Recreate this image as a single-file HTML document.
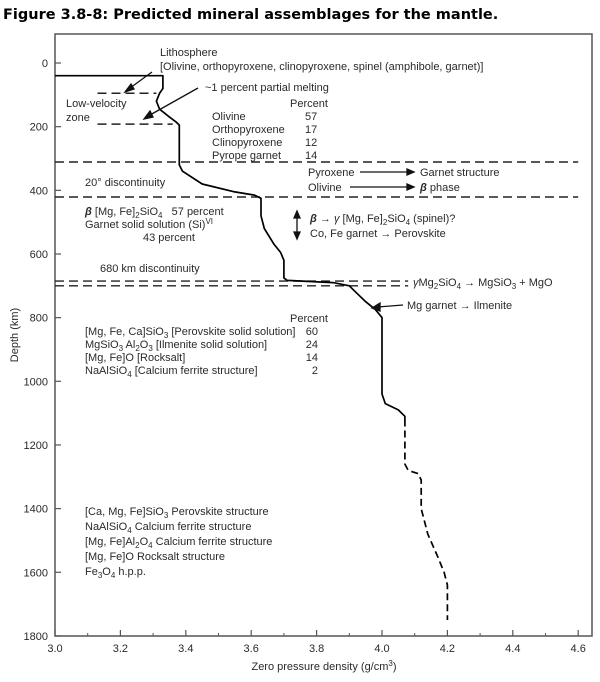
<!DOCTYPE html>
<html><head><meta charset="utf-8"><style>
body{margin:0;background:#fff;}
svg{display:block;font-family:"Liberation Sans",sans-serif;}
.t{font-size:11px;fill:#2a2a2a;}
</style></head><body>
<svg id="chart" width="600" height="682" viewBox="0 0 600 682">
<text x="3" y="19" font-size="14.5" font-weight="bold" fill="#000" style="font-family:'DejaVu Sans','Liberation Sans',sans-serif">Figure 3.8-8: Predicted mineral assemblages for the mantle.</text>
<rect x="55" y="34" width="537" height="602" fill="none" stroke="#555" stroke-width="1.5"/>
<g id="axes"></g>
<g id="marks"></g>
<g class="t">
<text x="160" y="56">Lithosphere</text>
<text x="160" y="70">[Olivine, orthopyroxene, clinopyroxene, spinel (amphibole, garnet)]</text>
<text x="205" y="91">~1 percent partial melting</text>
<text x="66" y="107">Low-velocity</text><text x="66" y="121">zone</text>
<text x="290" y="107">Percent</text>
<text x="212" y="120">Olivine</text><text x="305" y="120">57</text>
<text x="212" y="133">Orthopyroxene</text><text x="305" y="133">17</text>
<text x="212" y="146">Clinopyroxene</text><text x="305" y="146">12</text>
<text x="212" y="159">Pyrope garnet</text><text x="305" y="159">14</text>
<text x="85" y="186">20° discontinuity</text>
<text x="308" y="176">Pyroxene</text><text x="308" y="191">Olivine</text>
<text x="420" y="176">Garnet structure</text><text x="420" y="191"><tspan font-style="italic" font-weight="bold">β</tspan> phase</text>
<text x="85" y="215"><tspan font-style="italic" font-weight="bold">β</tspan> [Mg, Fe]<tspan font-size="8" dy="3">2</tspan><tspan dy="-3">SiO</tspan><tspan font-size="8" dy="3">4</tspan><tspan dy="-3" xml:space="preserve">   57 percent</tspan></text>
<text x="85" y="228">Garnet solid solution (Si)<tspan font-size="8" dy="-4">VI</tspan></text>
<text x="143" y="241">43 percent</text>
<text x="310" y="222"><tspan font-style="italic" font-weight="bold">β</tspan> → <tspan font-style="italic">γ</tspan> [Mg, Fe]<tspan font-size="8" dy="3">2</tspan><tspan dy="-3">SiO</tspan><tspan font-size="8" dy="3">4</tspan><tspan dy="-3"> (spinel)?</tspan></text>
<text x="310" y="237">Co, Fe garnet → Perovskite</text>
<text x="100" y="272">680 km discontinuity</text>
<text x="413" y="286"><tspan font-style="italic">γ</tspan>Mg<tspan font-size="8" dy="3">2</tspan><tspan dy="-3">SiO</tspan><tspan font-size="8" dy="3">4</tspan><tspan dy="-3"> → MgSiO</tspan><tspan font-size="8" dy="3">3</tspan><tspan dy="-3"> + MgO</tspan></text>
<text x="407" y="309">Mg garnet → Ilmenite</text>
<text x="290" y="322">Percent</text>
<text x="85" y="335">[Mg, Fe, Ca]SiO<tspan font-size="8" dy="3">3</tspan><tspan dy="-3"> [Perovskite solid solution]</tspan></text><text x="318" y="335" text-anchor="end">60</text>
<text x="85" y="348">MgSiO<tspan font-size="8" dy="3">3</tspan><tspan dy="-3"> Al</tspan><tspan font-size="8" dy="3">2</tspan><tspan dy="-3">O</tspan><tspan font-size="8" dy="3">3</tspan><tspan dy="-3"> [Ilmenite solid solution]</tspan></text><text x="318" y="348" text-anchor="end">24</text>
<text x="85" y="361">[Mg, Fe]O [Rocksalt]</text><text x="318" y="361" text-anchor="end">14</text>
<text x="85" y="374">NaAlSiO<tspan font-size="8" dy="3">4</tspan><tspan dy="-3"> [Calcium ferrite structure]</tspan></text><text x="318" y="374" text-anchor="end">2</text>
<text x="85" y="515">[Ca, Mg, Fe]SiO<tspan font-size="8" dy="3">3</tspan><tspan dy="-3"> Perovskite structure</tspan></text>
<text x="85" y="530">NaAlSiO<tspan font-size="8" dy="3">4</tspan><tspan dy="-3"> Calcium ferrite structure</tspan></text>
<text x="85" y="545">[Mg, Fe]Al<tspan font-size="8" dy="3">2</tspan><tspan dy="-3">O</tspan><tspan font-size="8" dy="3">4</tspan><tspan dy="-3"> Calcium ferrite structure</tspan></text>
<text x="85" y="560">[Mg, Fe]O Rocksalt structure</text>
<text x="85" y="575">Fe<tspan font-size="8" dy="3">3</tspan><tspan dy="-3">O</tspan><tspan font-size="8" dy="3">4</tspan><tspan dy="-3"> h.p.p.</tspan></text>
<text x="324" y="670" text-anchor="middle">Zero pressure density (g/cm<tspan font-size="8" dy="-4">3</tspan><tspan dy="4">)</tspan></text>
<text transform="translate(18,335) rotate(-90)" text-anchor="middle">Depth (km)</text>
</g>
<g stroke="#111" stroke-width="1.3" fill="#111">
<line x1="152" y1="72" x2="130" y2="88"/><polygon points="125,92 131,84 134,89" />
<line x1="198" y1="88" x2="150" y2="115"/><polygon points="144,119 150,111 153,117"/>
<line x1="403" y1="305" x2="378" y2="307"/><polygon points="372,308 380,303 380,311"/>
<line x1="360" y1="172" x2="410" y2="172"/><polygon points="414,172 407,169 407,175"/>
<line x1="350" y1="187" x2="410" y2="187"/><polygon points="414,187 407,184 407,190"/>
<line x1="297" y1="215" x2="297" y2="235"/><polygon points="297,211 294,218 300,218"/><polygon points="297,239 294,232 300,232"/>
</g>
</svg>
<script>
const xTicks=[3.0,3.2,3.4,3.6,3.8,4.0,4.2,4.4,4.6];
const yTicks=[0,200,400,600,800,1000,1200,1400,1600,1800];
const solidDensity=[3.0,3.33,3.33,3.32,3.31,3.32,3.35,3.37,3.38,3.38,3.39,3.45,3.55,3.61,3.63,3.63,3.64,3.67,3.69,3.70,3.70,3.71,3.85,3.90,3.92,3.95,3.98,4.0,4.0,4.01,4.05,4.07,4.07];
const solidDepth=[40,40,80,95,120,145,170,185,195,320,340,380,405,415,425,480,520,570,595,620,675,683,690,700,720,750,775,800,1040,1070,1090,1110,1120];
const dashDensity=[4.07,4.07,4.08,4.11,4.12,4.12,4.14,4.17,4.19,4.2,4.2];
const dashDepth=[1120,1260,1280,1290,1310,1400,1480,1550,1600,1640,1750];
const hLineDepths=[95,192,311,421,685,700];
const hLineStart=[3.13,3.13,3.0,3.0,3.0,3.0];
const hLineEnd=[3.31,3.36,4.6,4.6,4.08,4.08];
const X=v=>55+(v-3.0)*327;
const Y=d=>63+d*0.3183;
const ns="http://www.w3.org/2000/svg";
const ax=document.getElementById('axes'),mk=document.getElementById('marks');
function el(t,a,p){const e=document.createElementNS(ns,t);for(const k in a)e.setAttribute(k,a[k]);p.appendChild(e);return e;}
xTicks.forEach((v,i)=>{
 const l=el('line',{x1:X(v),x2:X(v),y1:636,y2:630,stroke:'#555','stroke-width':1.2},ax);
 
 
 if(i<xTicks.length-1){const m=el('line',{x1:X(v+0.1),x2:X(v+0.1),y1:636,y2:633,stroke:'#555'},ax);
 
 }
 const t=el('text',{x:X(v),y:652,'text-anchor':'middle','font-size':'11',fill:'#2a2a2a'},ax);t.textContent=v.toFixed(1);
 
 
});
yTicks.forEach(v=>{
 const l=el('line',{x1:55,x2:61,y1:Y(v),y2:Y(v),stroke:'#555','stroke-width':1.2},ax);
 
 
 const t=el('text',{x:48,y:Y(v)+4,'text-anchor':'end','font-size':'11',fill:'#2a2a2a'},ax);t.textContent=v;
 
 
});
hLineDepths.forEach((d,i)=>{
 const l=el('line',{x1:X(hLineStart[i]),x2:X(hLineEnd[i]),y1:Y(d),y2:Y(d),stroke:'#222','stroke-width':1.4,'stroke-dasharray':'9,5'},mk);
 
 
});
function path(xs,ds){let s='';xs.forEach((v,i)=>{s+=(i?'L':'M')+X(v).toFixed(1)+','+Y(ds[i]).toFixed(1);});return s;}
const p1=el('path',{d:path(solidDensity,solidDepth),fill:'none',stroke:'#000','stroke-width':1.7,'stroke-linejoin':'round'},mk);


const p2=el('path',{d:path(dashDensity,dashDepth),fill:'none',stroke:'#000','stroke-width':1.7,'stroke-dasharray':'7,4'},mk);


</script>
</body></html>
